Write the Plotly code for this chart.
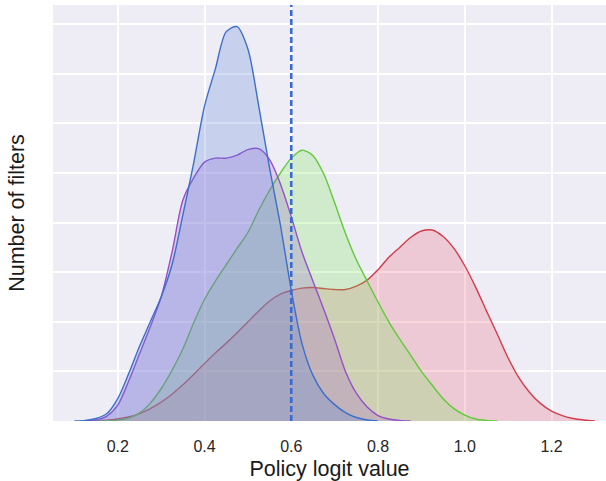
import plotly.graph_objects as go

# ---- data (KDE curves, y in gridline units) ----
blue_x = [0.100, 0.125, 0.150, 0.175, 0.200, 0.225, 0.250, 0.275, 0.300, 0.325, 0.350, 0.375,
          0.400, 0.425, 0.450, 0.475, 0.500, 0.525, 0.550, 0.575, 0.600, 0.625, 0.650, 0.675,
          0.700, 0.725, 0.750, 0.775, 0.800]
blue_y = [0.0, 0.01, 0.05, 0.15, 0.45, 0.95, 1.5, 2.0, 2.5, 3.15, 4.15, 5.2,
          6.35, 7.1, 7.85, 7.95, 7.5, 6.35, 5.1, 3.95, 2.64, 1.55, 0.92, 0.55,
          0.33, 0.17, 0.07, 0.02, 0.0]

purple_x = [0.125, 0.150, 0.175, 0.200, 0.225, 0.250, 0.275, 0.300, 0.325, 0.350, 0.375, 0.400,
            0.425, 0.450, 0.475, 0.500, 0.525, 0.550, 0.575, 0.600, 0.625, 0.650, 0.675, 0.700,
            0.725, 0.750, 0.775, 0.800, 0.825, 0.850, 0.875]
purple_y = [0.0, 0.02, 0.1, 0.32, 0.8, 1.35, 1.9, 2.5, 3.4, 4.45, 4.9, 5.22,
            5.3, 5.3, 5.36, 5.47, 5.49, 5.27, 4.78, 4.12, 3.4, 2.82, 2.25, 1.65,
            1.0, 0.56, 0.28, 0.11, 0.04, 0.01, 0.0]

green_x = [0.150, 0.175, 0.200, 0.225, 0.250, 0.275, 0.300, 0.325, 0.350, 0.375, 0.400, 0.425,
           0.450, 0.475, 0.500, 0.525, 0.550, 0.575, 0.600, 0.625, 0.650, 0.675, 0.700, 0.725,
           0.750, 0.775, 0.800, 0.825, 0.850, 0.875, 0.900, 0.925, 0.950, 0.975, 1.000, 1.025,
           1.050, 1.075]
green_y = [0.0, 0.005, 0.02, 0.06, 0.16, 0.36, 0.65, 1.02, 1.45, 1.98, 2.45, 2.82,
           3.15, 3.48, 3.8, 4.25, 4.65, 5.0, 5.3, 5.46, 5.35, 4.98, 4.4, 3.78,
           3.25, 2.82, 2.4, 2.0, 1.65, 1.33, 1.0, 0.72, 0.45, 0.25, 0.12, 0.04,
           0.01, 0.0]

red_x = [0.125, 0.150, 0.175, 0.200, 0.225, 0.250, 0.275, 0.300, 0.325, 0.350, 0.375, 0.400,
         0.425, 0.450, 0.475, 0.500, 0.525, 0.550, 0.575, 0.600, 0.625, 0.650, 0.675, 0.700,
         0.725, 0.750, 0.775, 0.800, 0.825, 0.850, 0.875, 0.900, 0.925, 0.950, 0.975, 1.000,
         1.025, 1.050, 1.075, 1.100, 1.125, 1.150, 1.175, 1.200, 1.225, 1.250, 1.275, 1.300]
red_y = [0.0, 0.005, 0.015, 0.04, 0.08, 0.15, 0.25, 0.38, 0.54, 0.73, 0.94, 1.16,
         1.37, 1.57, 1.78, 2.0, 2.22, 2.42, 2.56, 2.63, 2.68, 2.69, 2.67, 2.65,
         2.65, 2.72, 2.84, 3.05, 3.3, 3.5, 3.7, 3.83, 3.85, 3.72, 3.48, 3.13,
         2.7, 2.22, 1.75, 1.27, 0.87, 0.57, 0.35, 0.2, 0.11, 0.05, 0.02, 0.0]

threshold = 0.6
x_ticks = [0.2, 0.4, 0.6, 0.8, 1.0, 1.2]
x_tick_labels = ["0.2", "0.4", "0.6", "0.8", "1.0", "1.2"]

# drawing order: red at bottom, blue on top
series = [
    (red_x, red_y, "#d23c4b", "rgba(230,95,115,0.25)"),
    (green_x, green_y, "#62c93a", "rgba(115,230,80,0.25)"),
    (purple_x, purple_y, "#9650c8", "rgba(155,90,205,0.25)"),
    (blue_x, blue_y, "#3d6ec8", "rgba(85,128,218,0.25)"),
]

fig = go.Figure()
for xs, ys, lc, fc in series:
    fig.add_trace(go.Scatter(
        x=xs, y=ys, mode="lines", line=dict(color=lc, width=1.4, shape="spline", smoothing=0.8),
        fill="tozeroy", fillcolor=fc, showlegend=False, hoverinfo="skip"))

fig.add_shape(type="line", xref="x", yref="paper", x0=threshold, x1=threshold, y0=0, y1=1,
              line=dict(color="#3a6cd0", width=2.6, dash="6px,3px"), layer="above")

FONT = "Liberation Sans, Arial, sans-serif"
fig.update_layout(
    width=606, height=481,
    margin=dict(l=53, r=0, t=5, b=60),
    paper_bgcolor="white",
    plot_bgcolor="#EEEDF5",
    font=dict(family=FONT, color="#1a1a1a"),
    xaxis=dict(
        range=[0.0507, 1.3256], tickvals=x_ticks, ticktext=x_tick_labels,
        showgrid=True, gridcolor="white", gridwidth=1.6, zeroline=False, showline=False,
        ticks="outside", ticklen=11, tickcolor="rgba(0,0,0,0)", automargin=False,
        tickfont=dict(size=16, color="#262626", family=FONT),
        title=dict(text="Policy logit value", font=dict(size=21.5, color="#1a1a1a", family=FONT), standoff=6),
    ),
    yaxis=dict(
        range=[0, 8.387], dtick=1, tick0=0, showticklabels=False, automargin=False,
        showgrid=True, gridcolor="white", gridwidth=1.6, zeroline=False, showline=False,
        title=dict(text="Number of filters", font=dict(size=21.5, color="#1a1a1a", family=FONT), standoff=21),
    ),
)

fig.write_html("out.html", config={"displayModeBar": False},
               post_script="document.body.style.margin='0px';")
